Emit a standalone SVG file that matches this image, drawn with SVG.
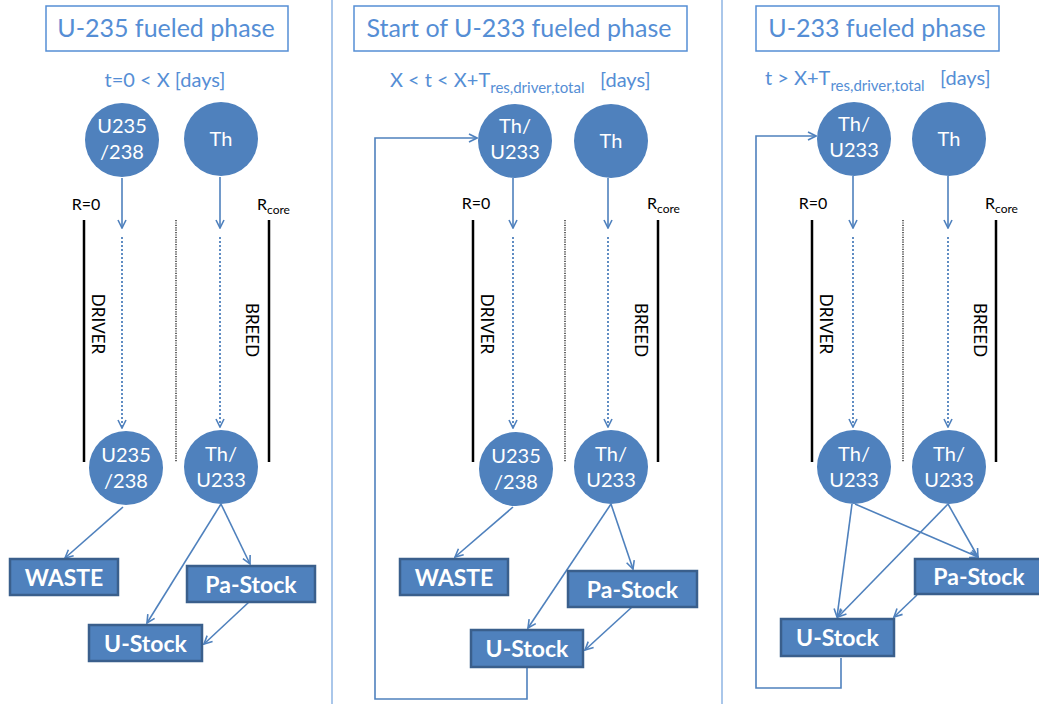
<svg xmlns="http://www.w3.org/2000/svg" width="1039" height="704" viewBox="0 0 1039 704">
<defs>
<marker id="ah" viewBox="0 0 10 10" markerWidth="10" markerHeight="10" refX="9" refY="5" orient="auto" markerUnits="userSpaceOnUse">
<path d="M1,1 L9,5 L1,9" fill="none" stroke="#4F81BD" stroke-width="1.6"/>
</marker>
</defs>
<style>
text{font-family:Lato,"Liberation Sans",sans-serif}
.title{fill:#558ED5;font-size:25px;text-anchor:middle}
.tbox{fill:#fff;stroke:#558ED5;stroke-width:1.5}
.sub{fill:#558ED5;font-size:20px}
.sb{font-size:15px}
.node circle{fill:#4F81BD}
.node text{fill:#fff;font-size:20px;text-anchor:middle}
.box rect{fill:#4F81BD;stroke:#3A5F8C;stroke-width:2.5}
.box text{fill:#fff;font-size:23px;font-weight:bold;text-anchor:middle}
.lbl{fill:#000;font-size:16px}
.vt{fill:#000;font-size:17px;text-anchor:middle;dominant-baseline:central}
.bl{stroke:#000;stroke-width:2.5}
.bd{stroke:#000;stroke-width:1.2;stroke-dasharray:1.2,1.2}
.div{stroke:#8EB4E3;stroke-width:1.5}
#connectors line,#connectors path{stroke:#4F81BD;stroke-width:1.6;fill:none}
#connectors .dot{stroke-dasharray:2,2;stroke-width:1.8}
</style>
<rect width="1039" height="704" fill="#fff"/>

<g id="dividers">
<line class="div" x1="332" y1="0" x2="332" y2="704"/>
<line class="div" x1="722" y1="0" x2="722" y2="704"/>
</g>

<g id="titles">
<rect class="tbox" x="46" y="6" width="242" height="45"/>
<text class="title" x="166" y="37">U-235 fueled phase</text>
<rect class="tbox" x="354" y="6" width="333" height="45"/>
<text class="title" x="519" y="37">Start of U-233 fueled phase</text>
<rect class="tbox" x="756" y="6" width="243" height="45"/>
<text class="title" x="877" y="37">U-233 fueled phase</text>
</g>

<g id="subtitles">
<text class="sub" x="165" y="87" text-anchor="middle" font-size="22">t=0 &lt; X [days]</text>
<text class="sub"><tspan x="390" y="87">X &lt; t &lt; X+T</tspan><tspan class="sb" dy="6">res,driver,total</tspan><tspan x="600" y="87">[days]</tspan></text>
<text class="sub"><tspan x="765" y="85">t &gt; X+T</tspan><tspan class="sb" dy="6">res,driver,total</tspan><tspan x="940" y="85">[days]</tspan></text>
</g>

<g id="zones">
<line class="bl" x1="84" y1="220" x2="84" y2="462"/>
<line class="bd" x1="176" y1="220" x2="176" y2="462"/>
<line class="bl" x1="269" y1="220" x2="269" y2="462"/>
<text class="lbl" x="86" y="210" text-anchor="middle">R=0</text>
<text class="lbl" x="257" y="210">R<tspan font-size="12" dy="4">core</tspan></text>
<text class="vt" transform="translate(98,324) rotate(90)">DRIVER</text>
<text class="vt" transform="translate(252,330) rotate(90)">BREED</text>

<line class="bl" x1="473" y1="220" x2="473" y2="462"/>
<line class="bd" x1="565" y1="220" x2="565" y2="462"/>
<line class="bl" x1="658" y1="220" x2="658" y2="462"/>
<text class="lbl" x="476" y="209" text-anchor="middle">R=0</text>
<text class="lbl" x="647" y="209">R<tspan font-size="12" dy="4">core</tspan></text>
<text class="vt" transform="translate(487,324) rotate(90)">DRIVER</text>
<text class="vt" transform="translate(641,330) rotate(90)">BREED</text>

<line class="bl" x1="812" y1="220" x2="812" y2="462"/>
<line class="bd" x1="903" y1="220" x2="903" y2="462"/>
<line class="bl" x1="996" y1="220" x2="996" y2="462"/>
<text class="lbl" x="813" y="209" text-anchor="middle">R=0</text>
<text class="lbl" x="985" y="209">R<tspan font-size="12" dy="4">core</tspan></text>
<text class="vt" transform="translate(826,324) rotate(90)">DRIVER</text>
<text class="vt" transform="translate(980,330) rotate(90)">BREED</text>
</g>

<g id="connectors">
<line x1="122" y1="178" x2="122" y2="228" marker-end="url(#ah)"/>
<line class="dot" x1="122" y1="237" x2="122" y2="428" marker-end="url(#ah)"/>
<line x1="220" y1="177" x2="220" y2="228" marker-end="url(#ah)"/>
<line class="dot" x1="220" y1="237" x2="220" y2="427" marker-end="url(#ah)"/>
<line x1="123" y1="507" x2="65" y2="558" marker-end="url(#ah)"/>
<line x1="221" y1="504" x2="250" y2="564" marker-end="url(#ah)"/>
<line x1="221" y1="504" x2="147" y2="623" marker-end="url(#ah)"/>
<line x1="249" y1="602" x2="204" y2="644" marker-end="url(#ah)"/>

<line x1="513" y1="178" x2="513" y2="228" marker-end="url(#ah)"/>
<line class="dot" x1="513" y1="237" x2="513" y2="428" marker-end="url(#ah)"/>
<line x1="608" y1="178" x2="608" y2="228" marker-end="url(#ah)"/>
<line class="dot" x1="608" y1="237" x2="608" y2="427" marker-end="url(#ah)"/>
<line x1="513" y1="507" x2="455" y2="557" marker-end="url(#ah)"/>
<line x1="611" y1="504" x2="633" y2="569" marker-end="url(#ah)"/>
<line x1="611" y1="504" x2="528" y2="628" marker-end="url(#ah)"/>
<line x1="632" y1="607" x2="585" y2="650" marker-end="url(#ah)"/>
<path d="M527,668 L527,699 L375,699 L375,138 L477,138" marker-end="url(#ah)"/>

<line x1="853" y1="176" x2="853" y2="228" marker-end="url(#ah)"/>
<line class="dot" x1="853" y1="237" x2="853" y2="427" marker-end="url(#ah)"/>
<line x1="948" y1="176" x2="948" y2="228" marker-end="url(#ah)"/>
<line class="dot" x1="948" y1="237" x2="948" y2="427" marker-end="url(#ah)"/>
<line x1="852" y1="504" x2="837" y2="617" marker-end="url(#ah)"/>
<line x1="855" y1="504" x2="978" y2="557" marker-end="url(#ah)"/>
<line x1="948" y1="504" x2="978" y2="557" marker-end="url(#ah)"/>
<line x1="948" y1="504" x2="838" y2="617" marker-end="url(#ah)"/>
<line x1="917" y1="595" x2="894" y2="617" marker-end="url(#ah)"/>
<path d="M841,658 L841,688 L756,688 L756,136 L816,136" marker-end="url(#ah)"/>
</g>

<g id="p1-u235-top" class="node"><circle cx="122" cy="140" r="37"/><text x="122" y="133">U235</text><text x="122" y="159">/238</text></g>
<g id="p1-th-top" class="node"><circle cx="221" cy="139" r="37"/><text x="221" y="146">Th</text></g>
<g id="p1-u235-bot" class="node"><circle cx="126" cy="468" r="37"/><text x="126" y="462">U235</text><text x="126" y="488">/238</text></g>
<g id="p1-thu233-bot" class="node"><circle cx="221" cy="467" r="37"/><text x="221" y="461">Th/</text><text x="221" y="487">U233</text></g>
<g id="p1-waste" class="box"><rect x="10" y="559" width="108" height="36"/><text x="64" y="586">WASTE</text></g>
<g id="p1-pastock" class="box"><rect x="187" y="566" width="128" height="36"/><text x="251" y="593">Pa-Stock</text></g>
<g id="p1-ustock" class="box"><rect x="89" y="625" width="113" height="36"/><text x="145.5" y="652">U-Stock</text></g>

<g id="p2-thu233-top" class="node"><circle cx="515" cy="141" r="37"/><text x="515" y="133">Th/</text><text x="515" y="159">U233</text></g>
<g id="p2-th-top" class="node"><circle cx="611" cy="141" r="37"/><text x="611" y="148">Th</text></g>
<g id="p2-u235-bot" class="node"><circle cx="516" cy="469" r="37"/><text x="516" y="463">U235</text><text x="516" y="489">/238</text></g>
<g id="p2-thu233-bot" class="node"><circle cx="611" cy="467" r="37"/><text x="611" y="461">Th/</text><text x="611" y="487">U233</text></g>
<g id="p2-waste" class="box"><rect x="400" y="559" width="108" height="36"/><text x="454" y="586">WASTE</text></g>
<g id="p2-pastock" class="box"><rect x="568" y="571" width="129" height="36"/><text x="632.5" y="598">Pa-Stock</text></g>
<g id="p2-ustock" class="box"><rect x="471" y="630" width="112" height="37"/><text x="527" y="657">U-Stock</text></g>

<g id="p3-thu233-top" class="node"><circle cx="854" cy="139" r="37"/><text x="854" y="131">Th/</text><text x="854" y="157">U233</text></g>
<g id="p3-th-top" class="node"><circle cx="949" cy="139" r="37"/><text x="949" y="146">Th</text></g>
<g id="p3-thu233-bot-l" class="node"><circle cx="854" cy="467" r="37"/><text x="854" y="461">Th/</text><text x="854" y="487">U233</text></g>
<g id="p3-thu233-bot-r" class="node"><circle cx="949" cy="467" r="37"/><text x="949" y="461">Th/</text><text x="949" y="487">U233</text></g>
<g id="p3-pastock" class="box"><rect x="915" y="559" width="128" height="35"/><text x="979" y="585">Pa-Stock</text></g>
<g id="p3-ustock" class="box"><rect x="781" y="619" width="113" height="37"/><text x="837.5" y="646">U-Stock</text></g>
</svg>
